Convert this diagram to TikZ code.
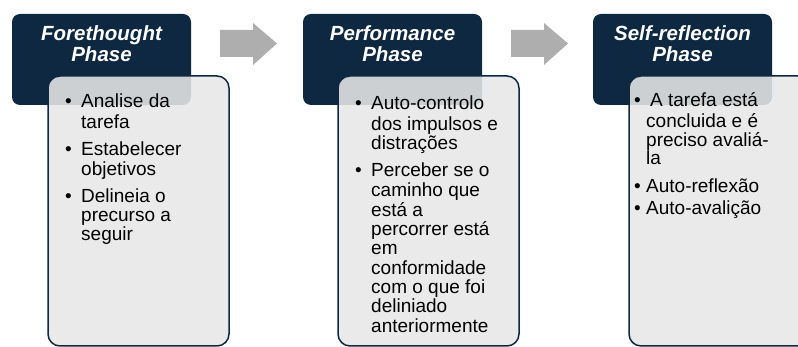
\documentclass[tikz,border=0pt]{standalone}
\usepackage{fontspec}
\setmainfont{Liberation Sans}
\definecolor{navy}{HTML}{0E2841}
\definecolor{lightbg}{HTML}{E8E8E8}
\definecolor{arrowgray}{HTML}{AEAEAE}
\newcommand\phaseitem[2][16pt]{\par\noindent\makebox[#1][l]{\textbullet}\parbox[t]{150pt}{\raggedright\strut #2\strut}\par}
\newcommand\phaselist[4]{\parbox[t]{#1}{\raggedright\parindent=0pt\parskip=#3\lineskip=0pt
  \fontsize{19}{#2}\selectfont #4}}
\tikzset{
  phasebox/.style={fill=navy, rounded corners=8pt, draw=none},
  detailbox/.style={fill=lightbg, fill opacity=0.88, draw=navy, draw opacity=1, line width=1.5pt, rounded corners=12pt},
  phasetitle/.style={text=white, font=\fontsize{20.5}{21}\selectfont\bfseries\itshape, align=center, anchor=base, inner sep=0pt},
  bullettext/.style={anchor=base west, inner sep=0pt, text=black},
  flowarrow/.style={fill=arrowgray, draw=none}
}
\newcommand\flowarrowat[2]{%
  \coordinate (#1) at (#2,43.5);
  \fill[flowarrow] (#1) ++(0,-13.5) -- ++(33,0) -- ++(0,-7) -- ++(24,20.5) -- ++(-24,21.5) -- ++(0,-8) -- ++(-33,0) -- cycle;}
\begin{document}
\begin{tikzpicture}[x=1pt, y=-1pt]
\clip (0,0) rectangle (798,347);
\fill[white] (0,0) rectangle (798,347);
% phase boxes
\path[phasebox] (12,14) rectangle (191,105);
\path[phasebox] (303,14) rectangle (482,105);
\path[phasebox] (593,14) rectangle (772,105);
\node[phasetitle] (t1) at (101.5,62) {Forethought\\Phase};
\node[phasetitle] (t2) at (392.5,62) {Performance\\Phase};
\node[phasetitle] (t3) at (682.5,62) {Self-reflection\\Phase};
% detail boxes
\path[detailbox] (48,76) rectangle (229,346);
\path[detailbox] (338,76) rectangle (519,346);
\path[detailbox] (629,76) rectangle (810,346);
% arrows
\flowarrowat{a1}{220}
\flowarrowat{a2}{511}
% texts
\node[bullettext] (l1) at (65,108) {\phaselist{170pt}{19.3pt}{7pt}{%
  \phaseitem{Analise da\\tarefa}
  \phaseitem{Estabelecer\\objetivos}
  \phaseitem{Delineia o\\precurso a\\seguir}}};
\node[bullettext] (l2) at (355,110) {\phaselist{170pt}{19.3pt}{7pt}{%
  \phaseitem{Auto-controlo\\dos impulsos e\\distrações}
  \phaseitem{Perceber se o\\caminho que\\está a\\percorrer está\\em\\conformidade\\com o que foi\\deliniado\\anteriormente}}};
\node[bullettext] (l3) at (634,107) {\phaselist{170pt}{18.5pt}{0pt}{%
  \phaseitem[12pt]{\hspace{4pt}A tarefa está\\concluida e é\\preciso avaliá-\\la}
  \vspace{9pt}
  \phaseitem[12pt]{Auto-reflexão}
  \vspace{2.5pt}
  \phaseitem[12pt]{Auto-avalição}}};
\end{tikzpicture}
\end{document}
